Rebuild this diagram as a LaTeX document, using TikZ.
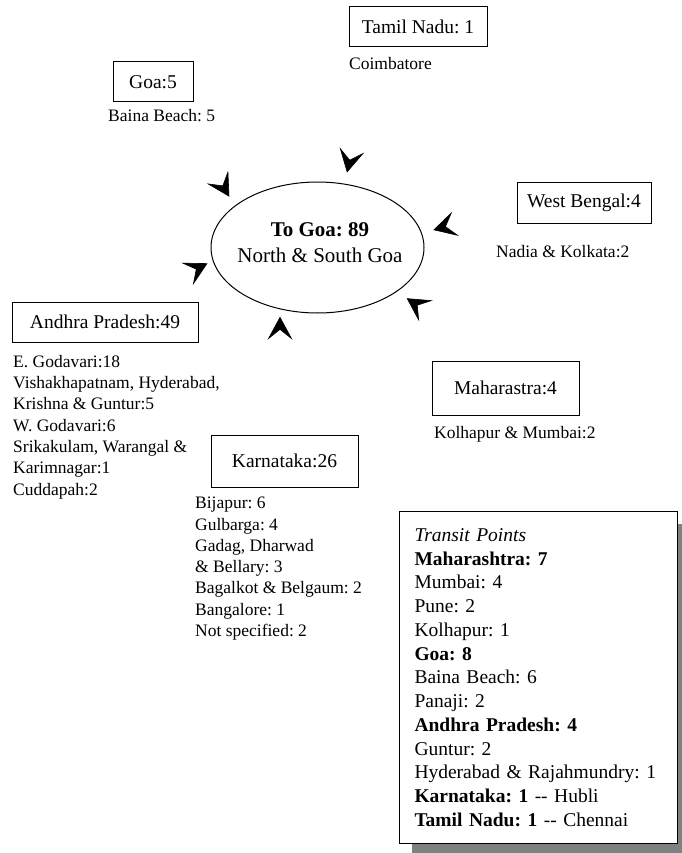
\documentclass[tikz,border=0pt]{standalone}
\usepackage{fontspec}
\setmainfont{Liberation Serif}
\usetikzlibrary{arrows.meta,calc,shapes.geometric,shadows}

\newcommand{\bigtxt}{\fontsize{19.5}{23.75}\selectfont}
\newcommand{\smalltxt}{\fontsize{17.5}{21.3}\selectfont}
\newcommand{\goatxt}{\fontsize{21}{26}\selectfont}
\frenchspacing

\begin{document}
\begin{tikzpicture}
  [x=1pt,y=-1pt,
   box/.style={draw,line width=1pt,inner sep=0pt,font=\bigtxt},
   list/.style={align=left,inner sep=0pt,font=\smalltxt},
   tip/.style={-{Stealth[length=23pt,width=25pt,inset=10pt]},line width=0.6pt}]
  \useasboundingbox (0,0) rectangle (681,853);

  % destination
  \node[ellipse,draw,line width=1pt,minimum width=213pt,minimum height=131pt,inner sep=0pt]
    (goa) at (317.5,247.5) {};
  \node[align=center,inner sep=0pt,font=\goatxt] (goat) at (320,243)
    {\textbf{To Goa: 89}\\North \& South Goa};

  % source states
  \node[box,minimum width=138pt,minimum height=40pt] (tn) at (418,27) {Tamil Nadu: 1};
  \node[box,minimum width=80pt,minimum height=40pt] (g5) at (153,82) {Goa:5};
  \node[box,minimum width=134pt,minimum height=41pt] (wb) at (584,202.5) {West Bengal:4};
  \node[box,minimum width=147pt,minimum height=54pt] (mh) at (505.5,388) {Maharastra:4};
  \node[box,minimum width=186pt,minimum height=40pt] (ap) at (105,322) {Andhra Pradesh:49};
  \node[box,minimum width=147pt,minimum height=52pt] (ka) at (284.5,461) {Karnataka:26};

  % districts
  \node[list,anchor=base west] (tnd) at (349,70) {Coimbatore};
  \node[list,anchor=base west] (g5d) at (108,122) {Baina Beach: 5};
  \node[list,anchor=base west] (wbd) at (496,257) {Nadia \& Kolkata:2};
  \node[list,anchor=base west] (mhd) at (434,438) {Kolhapur \& Mumbai:2};
  \node[list,anchor=north west] (apd) at (13,355)
    {E. Godavari:18\\Vishakhapatnam, Hyderabad,\\Krishna \& Guntur:5\\W. Godavari:6\\
     Srikakulam, Warangal \&\\Karimnagar:1\\Cuddapah:2};
  \node[list,anchor=north west] (kad) at (195,497)
    {Bijapur: 6\\Gulbarga: 4\\Gadag, Dharwad\\\& Bellary: 3\\Bagalkot \& Belgaum: 2\\
     Bangalore: 1\\Not specified: 2};

  % transit points
  \node[draw,fill=white,line width=1pt,anchor=north west,minimum width=278pt,
        minimum height=332pt,text width=248pt,inner xsep=15pt,align=left,font=\bigtxt,
        general shadow={fill=black!50,shadow xshift=12pt,shadow yshift=-12pt}] (tr) at (399,511)
    {\textit{Transit Points}\\\textbf{Maharashtra: 7}\\Mumbai: 4\\Pune: 2\\Kolhapur: 1\\
     \textbf{Goa: 8}\\Baina Beach: 6\\Panaji: 2\\\textbf{Andhra Pradesh: 4}\\Guntur: 2\\
     Hyderabad \& Rajahmundry: 1\\\textbf{Karnataka: 1} -{}- Hubli\\
     \textbf{Tamil Nadu: 1} -{}- Chennai};

  % arrowheads round the destination
  \foreach \tx/\ty/\bx/\by [count=\i] in {347/172.5/351.8/150.3, 229.3/196.7/217.7/177.4,
      433.3/230/454.2/224.2, 207.5/263.3/186/274.5, 406.7/298.3/425.8/310.8,
      280/316.7/280/338.3}
  {
    \coordinate (h\i) at (\tx,\ty);
    \coordinate (b\i) at ($(h\i)!11pt!(\bx,\by)$);
    \draw[tip] (b\i) -- (h\i);
  }
\end{tikzpicture}
\end{document}
